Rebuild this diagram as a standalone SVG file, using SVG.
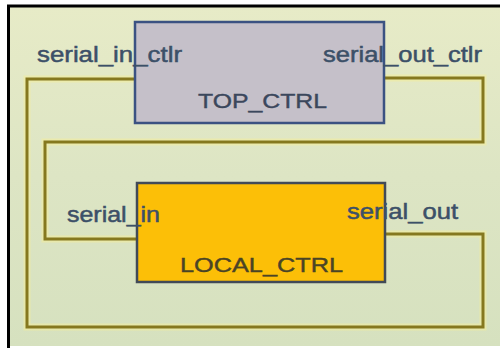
<svg xmlns="http://www.w3.org/2000/svg" width="500" height="348" viewBox="0 0 500 348">
  <defs>
    <linearGradient id="bg" x1="0" y1="0" x2="0" y2="1">
      <stop offset="0" stop-color="#e7ebc7"/>
      <stop offset="0.5" stop-color="#dde5c4"/>
      <stop offset="1" stop-color="#d6e1bf"/>
    </linearGradient>
    <style>
      .frame { fill: none; stroke: #000; stroke-width: 3; }
      .halo { fill: none; stroke: #f2ec9a; stroke-width: 7; stroke-linejoin: miter; opacity: 0.55; }
      .wire { fill: none; stroke: #85781f; stroke-width: 3; stroke-linejoin: miter; }
      .block { stroke-width: 2.5; }
      .top { fill: #c5c0c9; stroke: #3b5282; }
      .local { fill: #fcbf07; stroke: #414a57; }
      .port { font-family: "Liberation Sans", Arial, sans-serif; font-size: 22px; fill: #3c5068; stroke: #3c5068; stroke-width: 0.5; }
      .name { font-family: "Liberation Sans", Arial, sans-serif; font-size: 21px; stroke-width: 0.4; }
    </style>
  </defs>

  <!-- canvas -->
  <rect x="0" y="0" width="500" height="348" fill="#ffffff"/>
  <rect x="8" y="6" width="492" height="340" fill="url(#bg)"/>
  <path class="frame" d="M8.5,348 V6 H500"/>

  <!-- nets -->
  <g id="connectors">
    <path class="halo" d="M384,78 H483 V142 H45 V239 H137"/>
    <path class="halo" d="M385,234 H483 V327 H27 V79 H135"/>
    <path id="net-ctlr-to-local" class="wire" d="M384,78 H483 V142 H45 V239 H137"/>
    <path id="net-local-to-ctlr" class="wire" d="M385,234 H483 V327 H27 V79 H135"/>
  </g>

  <!-- TOP_CTRL block -->
  <g id="top_ctrl">
    <rect class="block top" x="135" y="22" width="249" height="101"/>
    <text class="name" x="198" y="108" textLength="129" lengthAdjust="spacingAndGlyphs" fill="#3b475c" stroke="#3b475c">TOP_CTRL</text>
    <text class="port" x="37" y="62" textLength="145" lengthAdjust="spacingAndGlyphs">serial_in_ctlr</text>
    <text class="port" x="323" y="62" textLength="159" lengthAdjust="spacingAndGlyphs">serial_out_ctlr</text>
  </g>

  <!-- LOCAL_CTRL block -->
  <g id="local_ctrl">
    <rect class="block local" x="137" y="183" width="248" height="99"/>
    <text class="name" x="180" y="272" textLength="163" lengthAdjust="spacingAndGlyphs" fill="#4a4426" stroke="#4a4426">LOCAL_CTRL</text>
    <text class="port" x="67" y="222" textLength="93" lengthAdjust="spacingAndGlyphs">serial_in</text>
    <text class="port" x="347" y="219" textLength="111" lengthAdjust="spacingAndGlyphs">serial_out</text>
  </g>
</svg>
